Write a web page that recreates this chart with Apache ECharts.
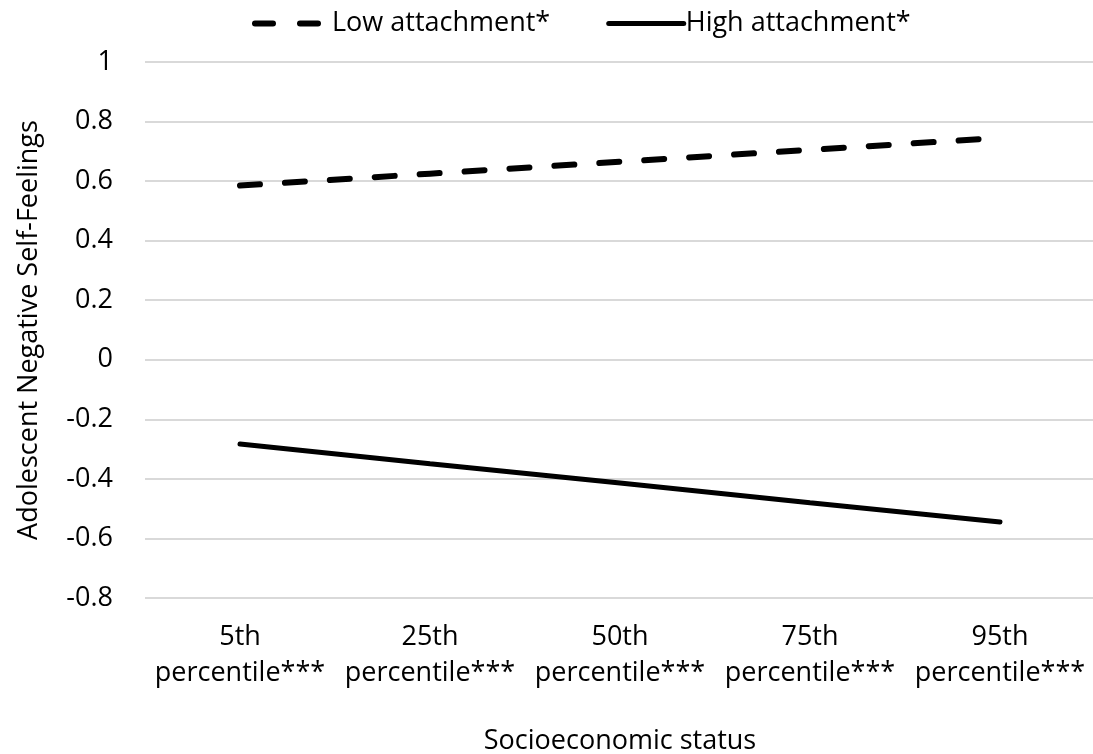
<!DOCTYPE html>
<html><head><meta charset="utf-8">
<script src="https://cdn.jsdelivr.net/npm/echarts@6/dist/echarts.min.js"></script>
<style>html,body{margin:0;padding:0;background:#fff}#c{width:1093px;height:754px}</style>
</head><body><div id="c"></div>
<script>
const categories = ['5th\npercentile***','25th\npercentile***','50th\npercentile***','75th\npercentile***','95th\npercentile***'];
const lowAttachment = [0.585, 0.625, 0.665, 0.705, 0.745];
const highAttachment = [-0.283, -0.349, -0.414, -0.480, -0.545];
const seriesNames = ['Low attachment*', 'High attachment*'];
const yTicks = {min: -0.8, max: 1, interval: 0.2};

const font = '"Open Sans", sans-serif';
const fs = 27;
const chart = echarts.init(document.getElementById('c'), null, {renderer: 'canvas'});
chart.setOption({
  animation: false,
  backgroundColor: '#fff',
  textStyle: {fontFamily: font, color: '#000'},
  legend: {
    top: 5, left: 247,
    itemWidth: 75, itemHeight: 26, itemGap: 56,
    textStyle: {fontFamily: font, fontSize: fs, color: '#000', padding: [0,0,0,-3]},
    itemStyle: {opacity: 0},
    data: [
      {name: seriesNames[0], lineStyle: {color: '#000', width: 6, type: [18, 27], cap: 'round'}, itemStyle: {opacity: 0}},
      {name: seriesNames[1], lineStyle: {color: '#000', width: 5, type: 'solid', cap: 'round'}, itemStyle: {opacity: 0}}
    ]
  },
  grid: {left: 145, right: -2, top: 62, height: 536, outerBoundsMode: 'none', containLabel: false},
  xAxis: {
    type: 'category', data: categories, boundaryGap: true,
    name: 'Socioeconomic status', nameLocation: 'middle', nameGap: 130,
    nameTextStyle: {fontFamily: font, fontSize: fs, color: '#000'},
    axisLine: {show: false}, axisTick: {show: false},
    axisLabel: {fontFamily: font, fontSize: fs, color: '#000', margin: 21, lineHeight: 36,
      interval: 0, hideOverlap: false}
  },
  yAxis: {
    type: 'value', min: yTicks.min, max: yTicks.max, interval: yTicks.interval,
    name: 'Adolescent Negative Self-Feelings', nameLocation: 'middle', nameGap: 102,
    nameTextStyle: {fontFamily: font, fontSize: fs, color: '#000'},
    axisLine: {show: false}, axisTick: {show: false},
    axisLabel: {fontFamily: font, fontSize: fs, color: '#000', margin: 32,
      formatter: v => String(Math.round(v*10)/10)},
    splitLine: {lineStyle: {color: '#d9d9d9', width: 2}}
  },
  series: [
    {name: seriesNames[0], type: 'line', data: lowAttachment, symbol: 'none', showSymbol: false,
     lineStyle: {color: '#000', width: 6, type: [20, 25], cap: 'round'}, itemStyle: {color: '#000'}},
    {name: seriesNames[1], type: 'line', data: highAttachment, symbol: 'none', showSymbol: false,
     lineStyle: {color: '#000', width: 5, type: 'solid', cap: 'round'}, itemStyle: {color: '#000'}}
  ]
});
</script></body></html>
